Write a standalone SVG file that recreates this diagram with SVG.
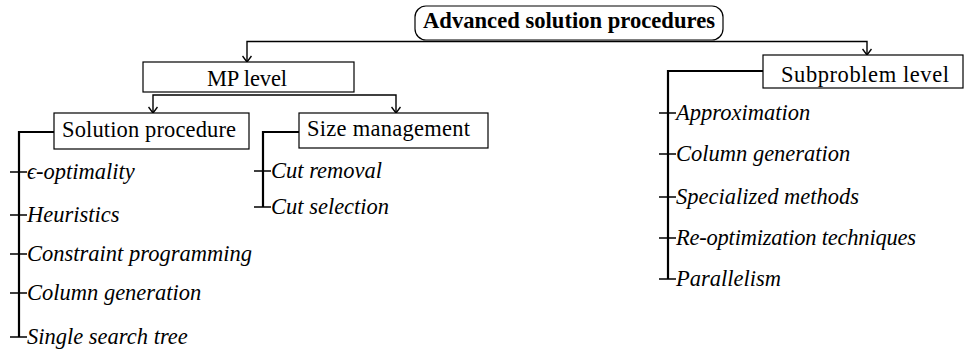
<svg xmlns="http://www.w3.org/2000/svg" width="964" height="349" viewBox="0 0 964 349">
<style>
text{font-family:'Liberation Serif',serif;font-size:22.5px;fill:#000}
.b{font-weight:bold}
.i{font-style:italic}
.box{fill:#fff;stroke:#000;stroke-width:1.2}
.edge{fill:none;stroke:#000;stroke-width:1.4}
.br{fill:none;stroke:#000;stroke-width:2.2}
.tick{fill:none;stroke:#000;stroke-width:1.4}
</style>
<defs>
<marker id="ar" viewBox="0 0 10 10" refX="9" refY="5" markerWidth="10" markerHeight="10" markerUnits="userSpaceOnUse" orient="auto">
<path d="M3,0.5 L9,5 L3,9.5" fill="none" stroke="#000" stroke-width="1.4"/>
</marker>
</defs>
<g id="connectors">
<path class="edge" d="M569,41.5 H247 V62" marker-end="url(#ar)"/>
<path class="edge" d="M569,41.5 H867 V55" marker-end="url(#ar)"/>
<path class="edge" d="M248,95 H153 V113" marker-end="url(#ar)"/>
<path class="edge" d="M248,95 H396 V113" marker-end="url(#ar)"/>
<path class="br" d="M54,132 H19 V337"/>
<path class="br" d="M299,132 H263 V207"/>
<path class="br" d="M763,71 H668 V279"/>
<path class="tick" d="M10,172 H27 M10,215 H27 M10,254 H27 M10,293 H27 M10,337 H27"/>
<path class="tick" d="M254,171 H271 M254,207 H271"/>
<path class="tick" d="M659,113 H676 M659,154 H676 M659,197 H676 M659,238 H676 M659,279 H676"/>
</g>
<g id="root">
<rect class="box" x="415" y="6" width="308" height="34" rx="11"/>
<text class="b" x="569" y="28" text-anchor="middle" textLength="292" lengthAdjust="spacingAndGlyphs">Advanced solution procedures</text>
</g>
<g id="mp">
<rect class="box" x="143" y="62" width="211" height="30"/>
<text x="207" y="86" textLength="80">MP level</text>
</g>
<g id="sub">
<rect class="box" x="763" y="55" width="200" height="33"/>
<text x="781" y="82" textLength="168">Subproblem level</text>
</g>
<g id="sol">
<rect class="box" x="54" y="113" width="195" height="36"/>
<text x="62" y="137" textLength="174">Solution procedure</text>
</g>
<g id="size">
<rect class="box" x="299" y="113" width="189" height="35"/>
<text x="307" y="136" textLength="163">Size management</text>
</g>
<g id="sol-items">
<text class="i" x="27" y="179">ϵ-optimality</text>
<text class="i" x="27" y="222">Heuristics</text>
<text class="i" x="27" y="261" textLength="225">Constraint programming</text>
<text class="i" x="27" y="300">Column generation</text>
<text class="i" x="27" y="344">Single search tree</text>
</g>
<g id="size-items">
<text class="i" x="271" y="178">Cut removal</text>
<text class="i" x="271" y="214">Cut selection</text>
</g>
<g id="sub-items">
<text class="i" x="676" y="120">Approximation</text>
<text class="i" x="676" y="161">Column generation</text>
<text class="i" x="676" y="204">Specialized methods</text>
<text class="i" x="676" y="245" textLength="240">Re-optimization techniques</text>
<text class="i" x="676" y="286">Parallelism</text>
</g>
</svg>
